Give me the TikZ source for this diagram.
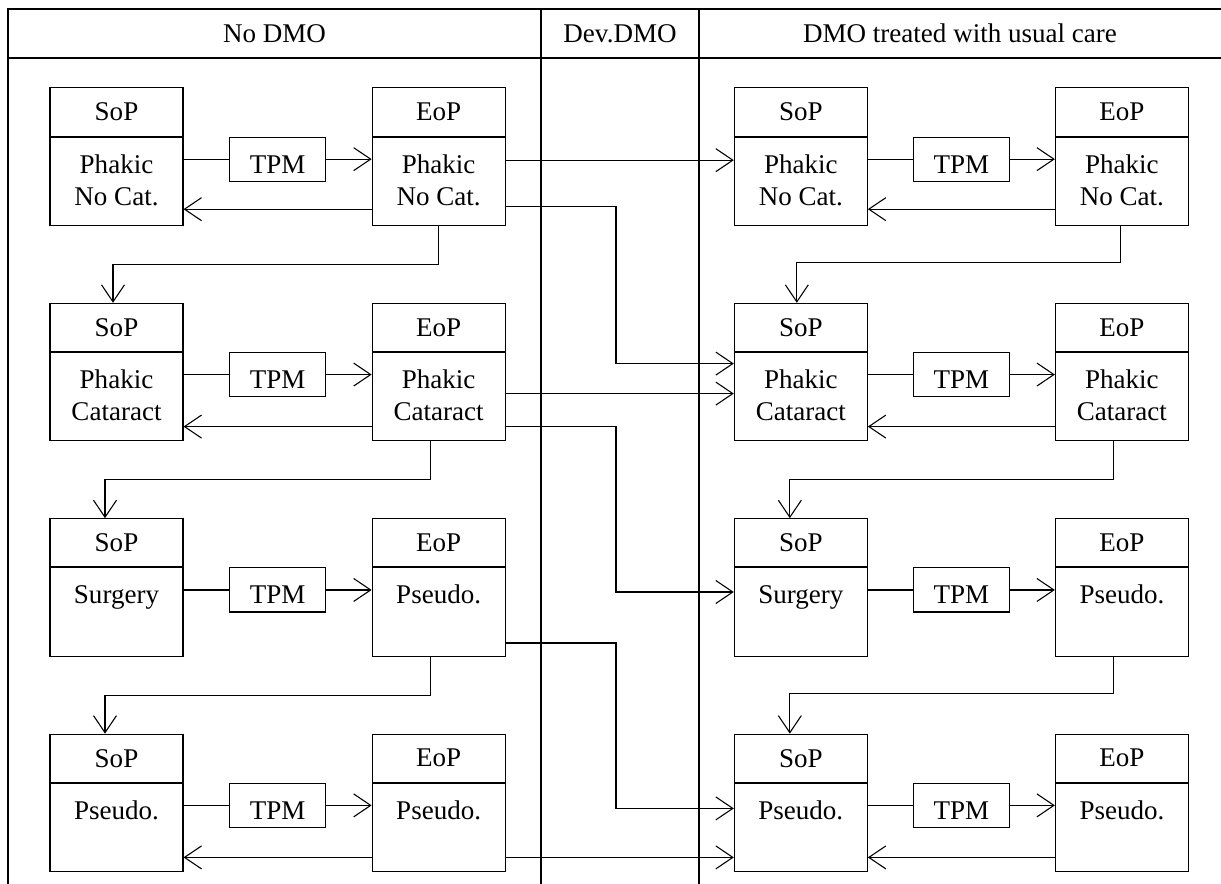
\documentclass[tikz,border=0pt]{standalone}
\usepackage{fontspec}
\setmainfont{Liberation Serif}
\usetikzlibrary{positioning,calc,arrows.meta}
\newcommand{\lnst}{\rule[-2.4pt]{0pt}{10.8pt}}
\tikzstyle{hd}=[%
      rectangle, draw=black, minimum width=49.2pt, minimum height=17.8pt,
      inner sep=0pt, align=center
]
\tikzstyle{bd}=[%
      rectangle, draw=black, minimum width=49.2pt, minimum height=32.6pt,
      inner sep=0pt, align=center
]
\tikzstyle{tp}=[%
      rectangle, draw=black, minimum width=35.5pt, minimum height=16.3pt,
      text height=13.3pt, text depth=3pt, inner sep=0pt, anchor=north
]
\tikzstyle{col}=[%
      rectangle, draw=none, inner sep=0pt
]
\begin{document}
\begin{tikzpicture}[x=0.37pt, y=-0.37pt,
    ->,
    >={Straight Barb[length=6.3pt,width=8.5pt]},
]
    \useasboundingbox (0,0) rectangle (1221,884);
    % table frame
    \draw[-] (1221,9) -| (8,884);
    \draw[-] (8,58) -- (1221,58);
    \draw[-] (541,9) -- (541,884);
    \draw[-] (699,9) -- (699,884);
    \node[col] (c1) at (274.5,33.5) {No DMO};
    \node[col] (c2) at (620,33.5)   {Dev.DMO};
    \node[col] (c3) at (960,33.5)   {DMO treated with usual care};
    \coordinate (lane) at (616,0);
    % row 1
    \node[hd]  (ls1h) at (116.5,112)          {SoP};
    \node[bd]  (ls1)  [below=0pt of ls1h]     {Phakic\lnst\\No Cat.\lnst};
    \node[hd]  (le1h) [right=69.6pt of ls1h]  {EoP};
    \node[bd]  (le1)  [below=0pt of le1h]     {Phakic\lnst\\No Cat.\lnst};
    \node[hd]  (rs1h) [right=84.4pt of le1h]  {SoP};
    \node[bd]  (rs1)  [below=0pt of rs1h]     {Phakic\lnst\\No Cat.\lnst};
    \node[hd]  (re1h) [right=69.2pt of rs1h]  {EoP};
    \node[bd]  (re1)  [below=0pt of re1h]     {Phakic\lnst\\No Cat.\lnst};
    % row 2
    \node[hd]  (ls2h) [below=28.5pt of ls1]   {SoP};
    \node[bd]  (ls2)  [below=0pt of ls2h]     {Phakic\lnst\\Cataract\lnst};
    \node[hd]  (le2h) [right=69.6pt of ls2h]  {EoP};
    \node[bd]  (le2)  [below=0pt of le2h]     {Phakic\lnst\\Cataract\lnst};
    \node[hd]  (rs2h) [right=84.4pt of le2h]  {SoP};
    \node[bd]  (rs2)  [below=0pt of rs2h]     {Phakic\lnst\\Cataract\lnst};
    \node[hd]  (re2h) [right=69.2pt of rs2h]  {EoP};
    \node[bd]  (re2)  [below=0pt of re2h]     {Phakic\lnst\\Cataract\lnst};
    % row 3
    \node[hd]  (ls3h) [below=28.5pt of ls2]   {SoP};
    \node[bd]  (ls3)  [below=0pt of ls3h]     {Surgery\lnst\\\lnst};
    \node[hd]  (le3h) [right=69.6pt of ls3h]  {EoP};
    \node[bd]  (le3)  [below=0pt of le3h]     {Pseudo.\lnst\\\lnst};
    \node[hd]  (rs3h) [right=84.4pt of le3h]  {SoP};
    \node[bd]  (rs3)  [below=0pt of rs3h]     {Surgery\lnst\\\lnst};
    \node[hd]  (re3h) [right=69.2pt of rs3h]  {EoP};
    \node[bd]  (re3)  [below=0pt of re3h]     {Pseudo.\lnst\\\lnst};
    % row 4
    \node[hd]  (ls4h) [below=28.5pt of ls3]   {SoP};
    \node[bd]  (ls4)  [below=0pt of ls4h]     {Pseudo.\lnst\\\lnst};
    \node[hd]  (le4h) [right=69.6pt of ls4h]  {EoP};
    \node[bd]  (le4)  [below=0pt of le4h]     {Pseudo.\lnst\\\lnst};
    \node[hd]  (rs4h) [right=84.4pt of le4h]  {SoP};
    \node[bd]  (rs4)  [below=0pt of rs4h]     {Pseudo.\lnst\\\lnst};
    \node[hd]  (re4h) [right=69.2pt of rs4h]  {EoP};
    \node[bd]  (re4)  [below=0pt of re4h]     {Pseudo.\lnst\\\lnst};
    % transition boxes
    \node[tp]  (lt1) at ($(ls1.north east)!.5!(le1.north west)$) {TPM};
    \node[tp]  (lt2) at ($(ls2.north east)!.5!(le2.north west)$) {TPM};
    \node[tp]  (lt3) at ($(ls3.north east)!.5!(le3.north west)$) {TPM};
    \node[tp]  (lt4) at ($(ls4.north east)!.5!(le4.north west)$) {TPM};
    \node[tp]  (rt1) at ($(rs1.north east)!.5!(re1.north west)$) {TPM};
    \node[tp]  (rt2) at ($(rs2.north east)!.5!(re2.north west)$) {TPM};
    \node[tp]  (rt3) at ($(rs3.north east)!.5!(re3.north west)$) {TPM};
    \node[tp]  (rt4) at ($(rs4.north east)!.5!(re4.north west)$) {TPM};
    \path (ls1.east |- lt1) edge[-] (lt1)  (lt1) edge (le1.west |- lt1)
          (ls2.east |- lt2) edge[-] (lt2)  (lt2) edge (le2.west |- lt2)
          (ls3.east |- lt3) edge[-] (lt3)  (lt3) edge (le3.west |- lt3)
          (ls4.east |- lt4) edge[-] (lt4)  (lt4) edge (le4.west |- lt4)
          (rs1.east |- rt1) edge[-] (rt1)  (rt1) edge (re1.west |- rt1)
          (rs2.east |- rt2) edge[-] (rt2)  (rt2) edge (re2.west |- rt2)
          (rs3.east |- rt3) edge[-] (rt3)  (rt3) edge (re3.west |- rt3)
          (rs4.east |- rt4) edge[-] (rt4)  (rt4) edge (re4.west |- rt4)
    ;
    % back arrows
    \draw ($(le1.west)+(0,28)$) -- ($(ls1.east)+(0,28)$);
    \draw ($(le2.west)+(0,30)$) -- ($(ls2.east)+(0,30)$);
    \draw ($(le4.west)+(0,30)$) -- ($(ls4.east)+(0,30)$);
    \draw ($(re1.west)+(0,28)$) -- ($(rs1.east)+(0,28)$);
    \draw ($(re2.west)+(0,30)$) -- ($(rs2.east)+(0,30)$);
    \draw ($(re4.west)+(0,30)$) -- ($(rs4.east)+(0,30)$);
    % next row
    \draw ($(le1.south)+(-0.5,0)$) -- ++(0,38.5) -| ($(ls2h.north)+(-3.5,0)$);
    \draw ($(le2.south)+(-8.5,0)$) -- ++(0,38.5) -| ($(ls3h.north)+(-11.5,0)$);
    \draw ($(le3.south)+(-8.5,0)$) -- ++(0,38.5) -| ($(ls4h.north)+(-11.5,0)$);
    \draw ($(re1.south)+(-1,0)$) -- ++(0,37) -| ($(rs2h.north)+(-4,0)$);
    \draw ($(re2.south)+(-8,0)$) -- ++(0,38) -| ($(rs3h.north)+(-11,0)$);
    \draw ($(re3.south)+(-8,0)$) -- ++(0,37) -| ($(rs4h.north)+(-11,0)$);
    % into usual care
    \draw ($(le1.east)+(0,-21)$) -- ($(rs1.west)+(0,-21)$);
    \draw ($(le1.east)+(0,25)$) -| ($(lane |- rs2.west)+(0,-33)$) -- ($(rs2.west)+(0,-33)$);
    \draw ($(le2.east)+(0,-3)$) -- ($(rs2.west)+(0,-3)$);
    \draw ($(le2.east)+(0,30)$) -| ($(lane |- rs3.west)+(0,-20)$) -- ($(rs3.west)+(0,-20)$);
    \draw ($(le3.east)+(0,31)$) -| ($(lane |- rs4.west)+(0,-19)$) -- ($(rs4.west)+(0,-19)$);
    \draw ($(le4.east)+(0,30)$) -- ($(rs4.west)+(0,30)$);
\end{tikzpicture}
\end{document}
